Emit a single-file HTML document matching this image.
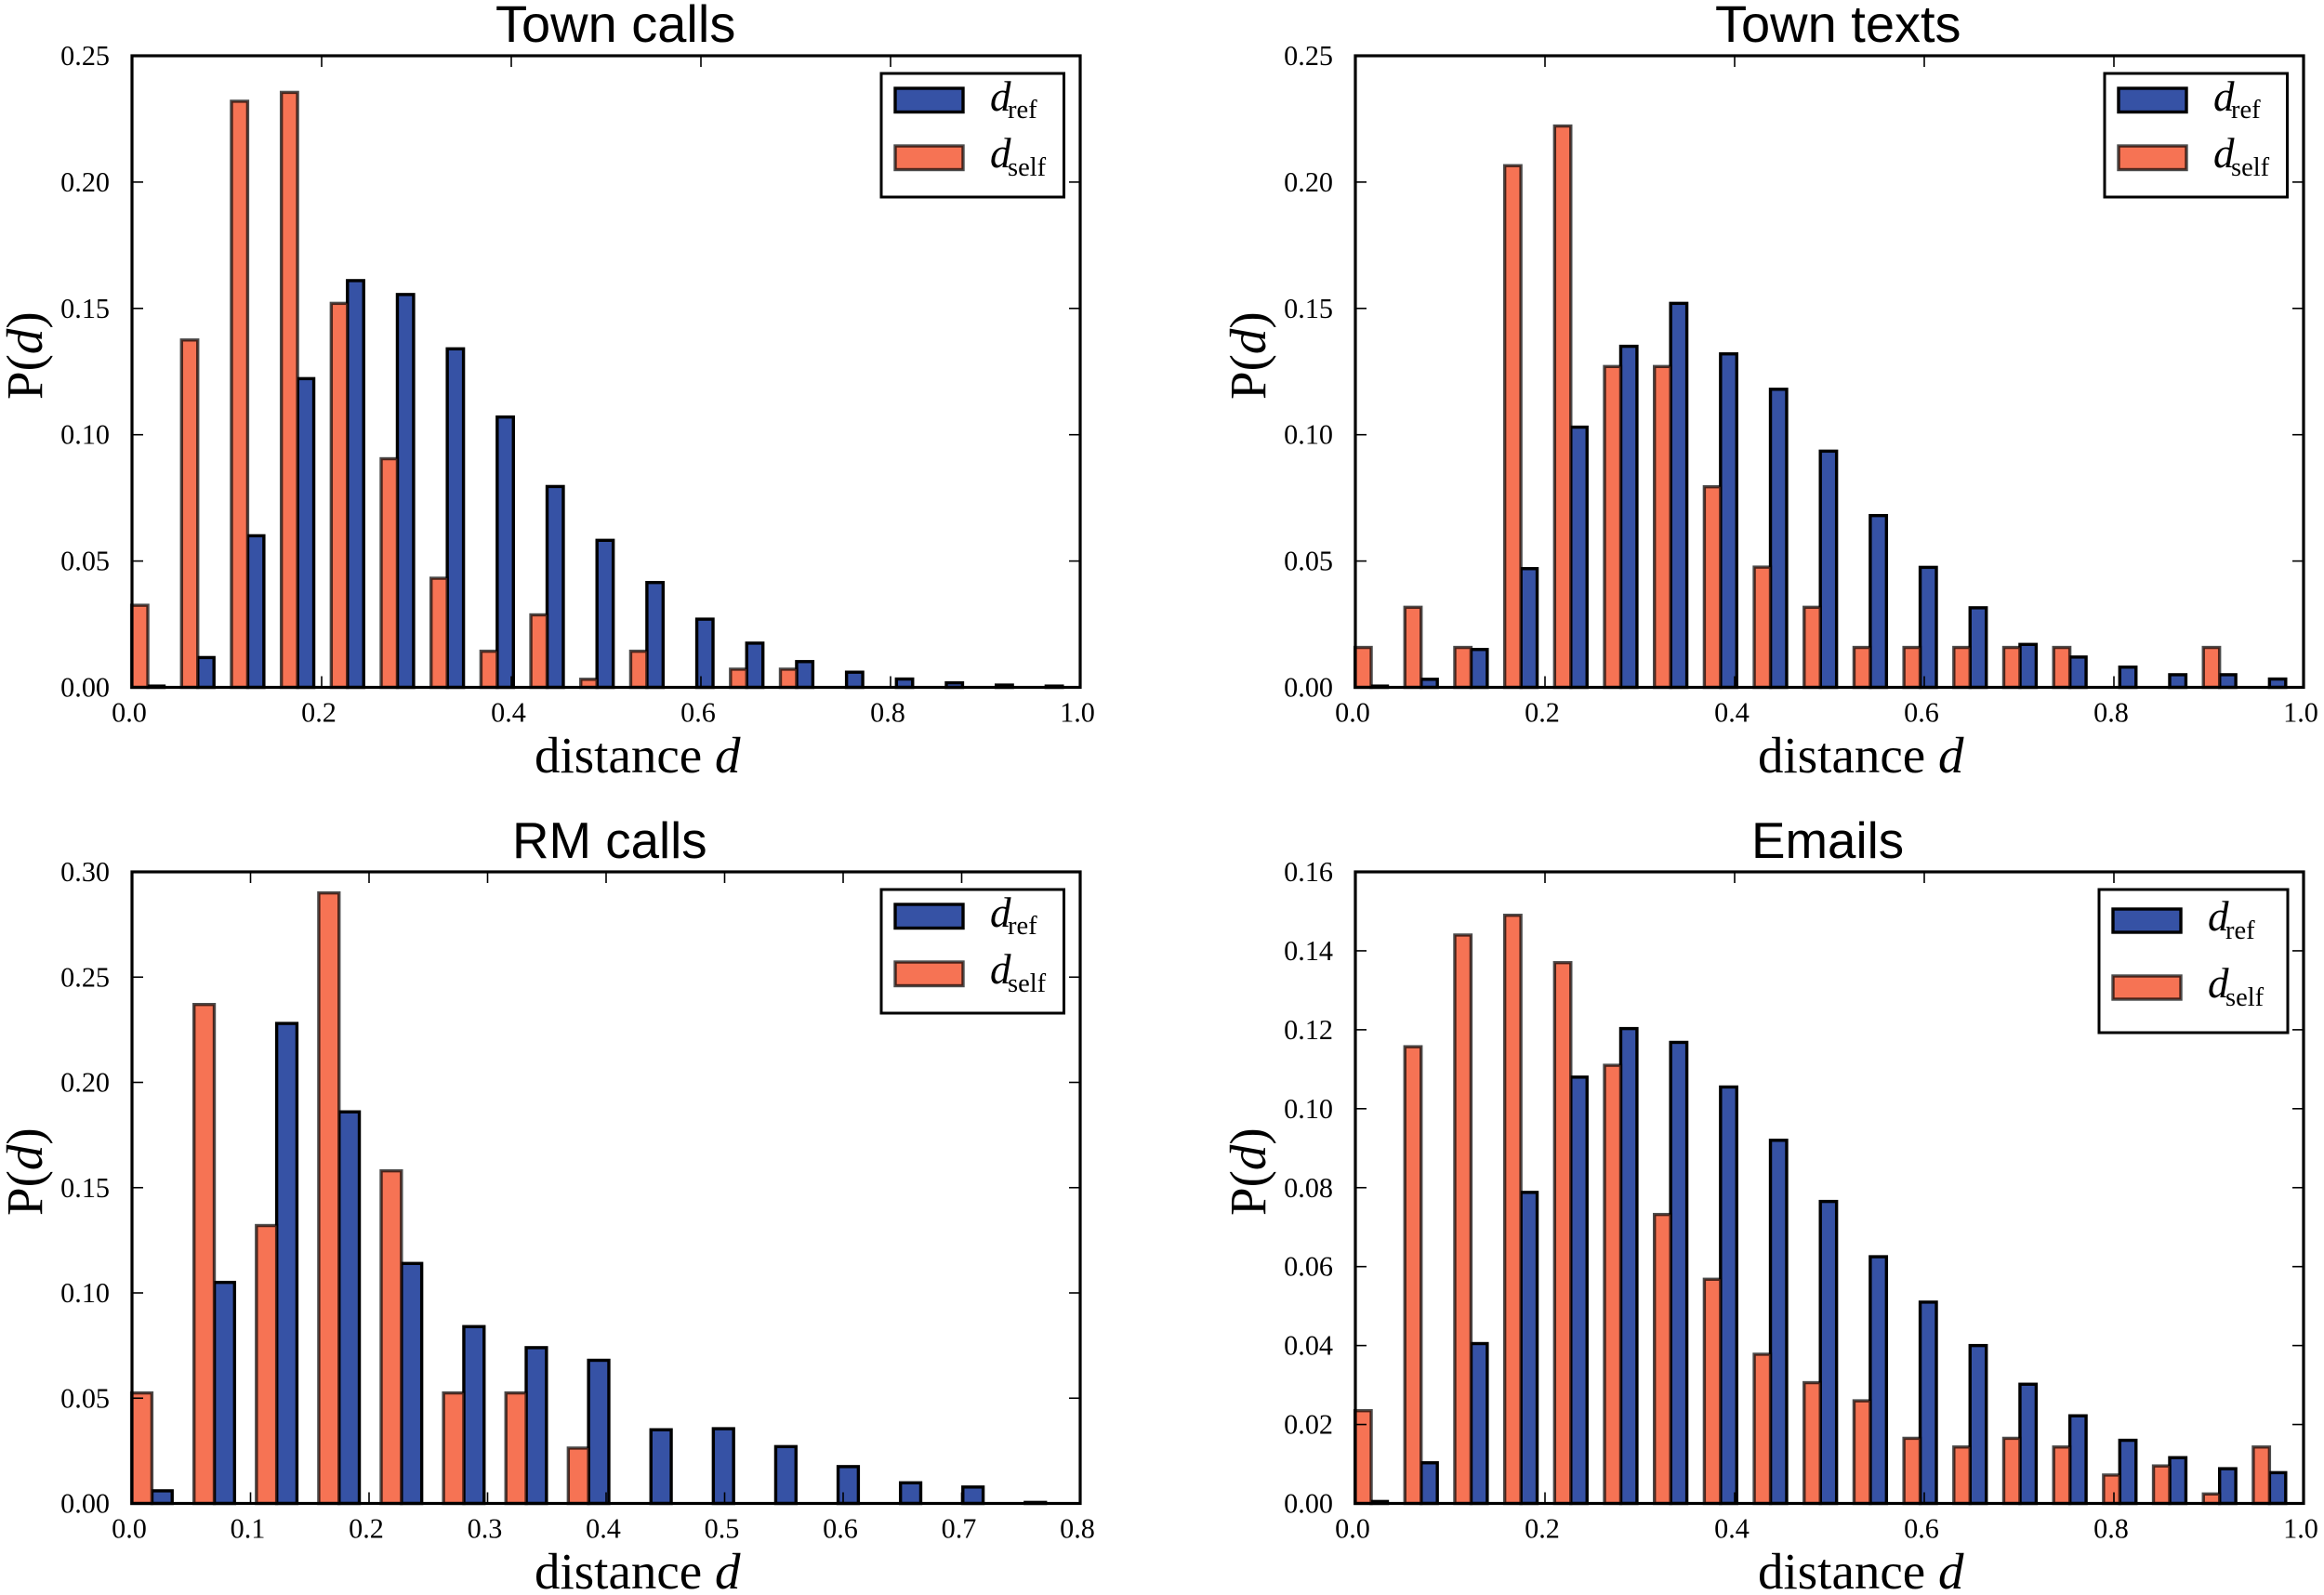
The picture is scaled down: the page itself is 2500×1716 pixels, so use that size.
<!DOCTYPE html>
<html lang="en">
<head>
<meta charset="utf-8">
<title>Distance distributions</title>
<style>
html,body{margin:0;padding:0;background:#fff;}
svg{display:block;}
.serif{font-family:"Liberation Serif",serif;fill:#000;}
.sans{font-family:"Liberation Sans",sans-serif;fill:#000;}
.title{font-size:56px;}
.title-small{font-size:54.7px;}
.axis-label{font-size:55px;}
.tick-label{font-size:30.2px;}
.leg-d{font-size:45px;font-style:italic;}
.leg-sub{font-size:28.5px;}
</style>
</head>
<body>
<svg id="figure" xmlns="http://www.w3.org/2000/svg" width="2500" height="1716" viewBox="0 0 2500 1716">
<rect width="2500" height="1716" fill="#fff"/>
<g id="panel-town-calls"></g>
<g id="panel-town-texts"></g>
<g id="panel-rm-calls"></g>
<g id="panel-emails"></g>

<text class="sans title" x="533" y="45">Town calls</text>
<text class="sans title" x="1845" y="45">Town texts</text>
<text class="sans title-small" x="551" y="923">RM calls</text>
<text class="sans title-small" x="1884" y="923">Emails</text>

<text class="serif axis-label" x="575" y="831">distance <tspan font-style="italic">d</tspan></text>
<text class="serif axis-label" x="1891" y="831">distance <tspan font-style="italic">d</tspan></text>
<text class="serif axis-label" x="575" y="1709">distance <tspan font-style="italic">d</tspan></text>
<text class="serif axis-label" x="1891" y="1709">distance <tspan font-style="italic">d</tspan></text>

<text class="serif axis-label" transform="translate(45 430) rotate(-90)">P(<tspan font-style="italic">d</tspan>)</text>
<text class="serif axis-label" transform="translate(1361 430) rotate(-90)">P(<tspan font-style="italic">d</tspan>)</text>
<text class="serif axis-label" transform="translate(45 1308) rotate(-90)">P(<tspan font-style="italic">d</tspan>)</text>
<text class="serif axis-label" transform="translate(1361 1308) rotate(-90)">P(<tspan font-style="italic">d</tspan>)</text>

<g>
  <rect x="948" y="79" width="196.5" height="133" fill="#fff" stroke="#000" stroke-width="3"/>
  <rect x="963" y="95" width="73" height="25.5" fill="#3652A5" stroke="#000" stroke-width="3.4"/>
  <rect x="963" y="157" width="73" height="25.5" fill="#F67354" stroke="#000" stroke-opacity="0.7" stroke-width="3.4"/>
  <text class="serif leg-d" x="1065" y="119">d</text><text class="serif leg-sub" x="1084" y="127">ref</text>
  <text class="serif leg-d" x="1065" y="180">d</text><text class="serif leg-sub" x="1084" y="189">self</text>
</g>
<g>
  <rect x="2264" y="79" width="196.5" height="133" fill="#fff" stroke="#000" stroke-width="3"/>
  <rect x="2279" y="95" width="73" height="25.5" fill="#3652A5" stroke="#000" stroke-width="3.4"/>
  <rect x="2279" y="157" width="73" height="25.5" fill="#F67354" stroke="#000" stroke-opacity="0.7" stroke-width="3.4"/>
  <text class="serif leg-d" x="2381" y="119">d</text><text class="serif leg-sub" x="2400" y="127">ref</text>
  <text class="serif leg-d" x="2381" y="180">d</text><text class="serif leg-sub" x="2400" y="189">self</text>
</g>
<g>
  <rect x="948" y="957" width="196.5" height="133" fill="#fff" stroke="#000" stroke-width="3"/>
  <rect x="963" y="973" width="73" height="25.5" fill="#3652A5" stroke="#000" stroke-width="3.4"/>
  <rect x="963" y="1035" width="73" height="25.5" fill="#F67354" stroke="#000" stroke-opacity="0.7" stroke-width="3.4"/>
  <text class="serif leg-d" x="1065" y="997">d</text><text class="serif leg-sub" x="1084" y="1005">ref</text>
  <text class="serif leg-d" x="1065" y="1058">d</text><text class="serif leg-sub" x="1084" y="1067">self</text>
</g>
<g>
  <rect x="2258" y="957" width="203" height="154" fill="#fff" stroke="#000" stroke-width="3"/>
  <rect x="2273" y="978" width="73" height="25" fill="#3652A5" stroke="#000" stroke-width="3.4"/>
  <rect x="2273" y="1050" width="73" height="25" fill="#F67354" stroke="#000" stroke-opacity="0.7" stroke-width="3.4"/>
  <text class="serif leg-d" x="2375" y="1001">d</text><text class="serif leg-sub" x="2394" y="1010">ref</text>
  <text class="serif leg-d" x="2375" y="1073">d</text><text class="serif leg-sub" x="2394" y="1082">self</text>
</g>
</svg>
<script>
var binWidthData = 1 / 19;

var townCallsSelf = [0.0325,0.1375,0.232,0.2355,0.152,0.0905,0.0432,0.0143,0.0287,0.0032,0.0143,0,0.0072,0.0072,0,0,0,0,0];
var townCallsRef = [0.0005,0.0118,0.06,0.1222,0.161,0.1555,0.134,0.107,0.0795,0.0582,0.0415,0.027,0.0175,0.0102,0.006,0.0033,0.0018,0.0009,0.0005];
var townCallsYTicks = ["0.00","0.05","0.10","0.15","0.20","0.25"];
var townCallsXTicks = ["0.0","0.2","0.4","0.6","0.8","1.0"];

var townTextsSelf = [0.0158,0.0317,0.0158,0.2065,0.2222,0.127,0.127,0.0794,0.0476,0.0317,0.0158,0.0158,0.0158,0.0158,0.0158,0,0,0.0158,0];
var townTextsRef = [0.0005,0.0032,0.015,0.047,0.103,0.135,0.152,0.132,0.118,0.0935,0.068,0.0475,0.0315,0.017,0.012,0.008,0.005,0.005,0.0033];
var townTextsYTicks = ["0.00","0.05","0.10","0.15","0.20","0.25"];
var townTextsXTicks = ["0.0","0.2","0.4","0.6","0.8","1.0"];

var rmCallsSelf = [0.0525,0.237,0.132,0.29,0.158,0.0525,0.0525,0.0263,0,0,0,0,0,0,0];
var rmCallsRef = [0.006,0.105,0.228,0.186,0.114,0.084,0.074,0.068,0.035,0.0355,0.027,0.0175,0.0098,0.0078,0.0005];
var rmCallsYTicks = ["0.00","0.05","0.10","0.15","0.20","0.25","0.30"];
var rmCallsXTicks = ["0.0","0.1","0.2","0.3","0.4","0.5","0.6","0.7","0.8"];

var emailsSelf = [0.0235,0.1157,0.144,0.149,0.137,0.111,0.0732,0.0568,0.0378,0.0306,0.026,0.0165,0.0143,0.0165,0.0143,0.0072,0.0095,0.0024,0.0143];
var emailsRef = [0.0005,0.0103,0.0405,0.0788,0.108,0.1203,0.1168,0.1055,0.092,0.0765,0.0625,0.051,0.04,0.0302,0.0222,0.016,0.0116,0.0088,0.0078];
var emailsYTicks = ["0.00","0.02","0.04","0.06","0.08","0.10","0.12","0.14","0.16"];
var emailsXTicks = ["0.0","0.2","0.4","0.6","0.8","1.0"];

var SVG_NS = "http://www.w3.org/2000/svg";

function make(tag, parent) {
  var el = document.createElementNS(SVG_NS, tag);
  parent.appendChild(el);
  return el;
}

function drawPanel(id, left, top, selfValues, refValues, xTicks, yTicks) {
  var group = document.getElementById(id);
  var width = 1020;
  var height = 679.5;
  var right = left + width;
  var bottom = top + height;
  var xMax = parseFloat(xTicks[xTicks.length - 1]);
  var yMax = parseFloat(yTicks[yTicks.length - 1]);
  function xScale(v) { return left + (v / xMax) * width; }
  function yScale(v) { return bottom - (v / yMax) * height; }

  var barShare = 0.325;
  var barWidth = xScale(binWidthData * barShare) - xScale(0);
  var barNudge = -0.4;

  refValues.forEach(function (value, i) {
    if (value <= 0) return;
    var rect = make("rect", group);
    
    
    var x0 = xScale(i * binWidthData) + barNudge + barWidth;
    rect.setAttribute("x", x0);
    rect.setAttribute("y", yScale(value));
    rect.setAttribute("width", barWidth);
    rect.setAttribute("height", bottom - yScale(value));
    rect.setAttribute("fill", "#3652A5");
    rect.setAttribute("stroke", "#000");
    rect.setAttribute("stroke-width", "3.4");
  });

  selfValues.forEach(function (value, i) {
    if (value <= 0) return;
    var rect = make("rect", group);
    
    
    var x0 = xScale(i * binWidthData) + barNudge;
    rect.setAttribute("x", x0);
    rect.setAttribute("y", yScale(value));
    rect.setAttribute("width", barWidth);
    rect.setAttribute("height", bottom - yScale(value));
    rect.setAttribute("fill", "#F67354");
    rect.setAttribute("stroke", "#000");
    rect.setAttribute("stroke-opacity", "0.7");
    rect.setAttribute("stroke-width", "3.4");
  });

  xTicks.forEach(function (label) {
    var v = parseFloat(label);
    var px = xScale(v);
    var lower = make("line", group);
    
    
    lower.setAttribute("x1", px); lower.setAttribute("x2", px);
    lower.setAttribute("y1", bottom); lower.setAttribute("y2", bottom - 12);
    lower.setAttribute("stroke", "#000"); lower.setAttribute("stroke-width", "1.6");
    var upper = make("line", group);
    
    
    upper.setAttribute("x1", px); upper.setAttribute("x2", px);
    upper.setAttribute("y1", top); upper.setAttribute("y2", top + 12);
    upper.setAttribute("stroke", "#000"); upper.setAttribute("stroke-width", "1.6");
    var text = make("text", group);
    
    
    text.setAttribute("class", "serif tick-label");
    text.setAttribute("x", px - 3);
    text.setAttribute("y", bottom + 37);
    text.setAttribute("text-anchor", "middle");
    text.textContent = label;
  });

  yTicks.forEach(function (label) {
    var v = parseFloat(label);
    var py = yScale(v);
    var inner = make("line", group);
    
    
    inner.setAttribute("x1", left); inner.setAttribute("x2", left + 12);
    inner.setAttribute("y1", py); inner.setAttribute("y2", py);
    inner.setAttribute("stroke", "#000"); inner.setAttribute("stroke-width", "1.6");
    var outer = make("line", group);
    
    
    outer.setAttribute("x1", right); outer.setAttribute("x2", right - 12);
    outer.setAttribute("y1", py); outer.setAttribute("y2", py);
    outer.setAttribute("stroke", "#000"); outer.setAttribute("stroke-width", "1.6");
    var text = make("text", group);
    
    
    text.setAttribute("class", "serif tick-label");
    text.setAttribute("x", left - 24);
    text.setAttribute("y", py + 10);
    text.setAttribute("text-anchor", "end");
    text.textContent = label;
  });

  var frame = make("rect", group);
  
  
  frame.setAttribute("x", left);
  frame.setAttribute("y", top);
  frame.setAttribute("width", width);
  frame.setAttribute("height", height);
  frame.setAttribute("fill", "none");
  frame.setAttribute("stroke", "#000");
  frame.setAttribute("stroke-width", "3.2");
}

drawPanel("panel-town-calls", 142, 60, townCallsSelf, townCallsRef, townCallsXTicks, townCallsYTicks);
drawPanel("panel-town-texts", 1458, 60, townTextsSelf, townTextsRef, townTextsXTicks, townTextsYTicks);
drawPanel("panel-rm-calls", 142, 938, rmCallsSelf, rmCallsRef, rmCallsXTicks, rmCallsYTicks);
drawPanel("panel-emails", 1458, 938, emailsSelf, emailsRef, emailsXTicks, emailsYTicks);
</script>
</body>
</html>
